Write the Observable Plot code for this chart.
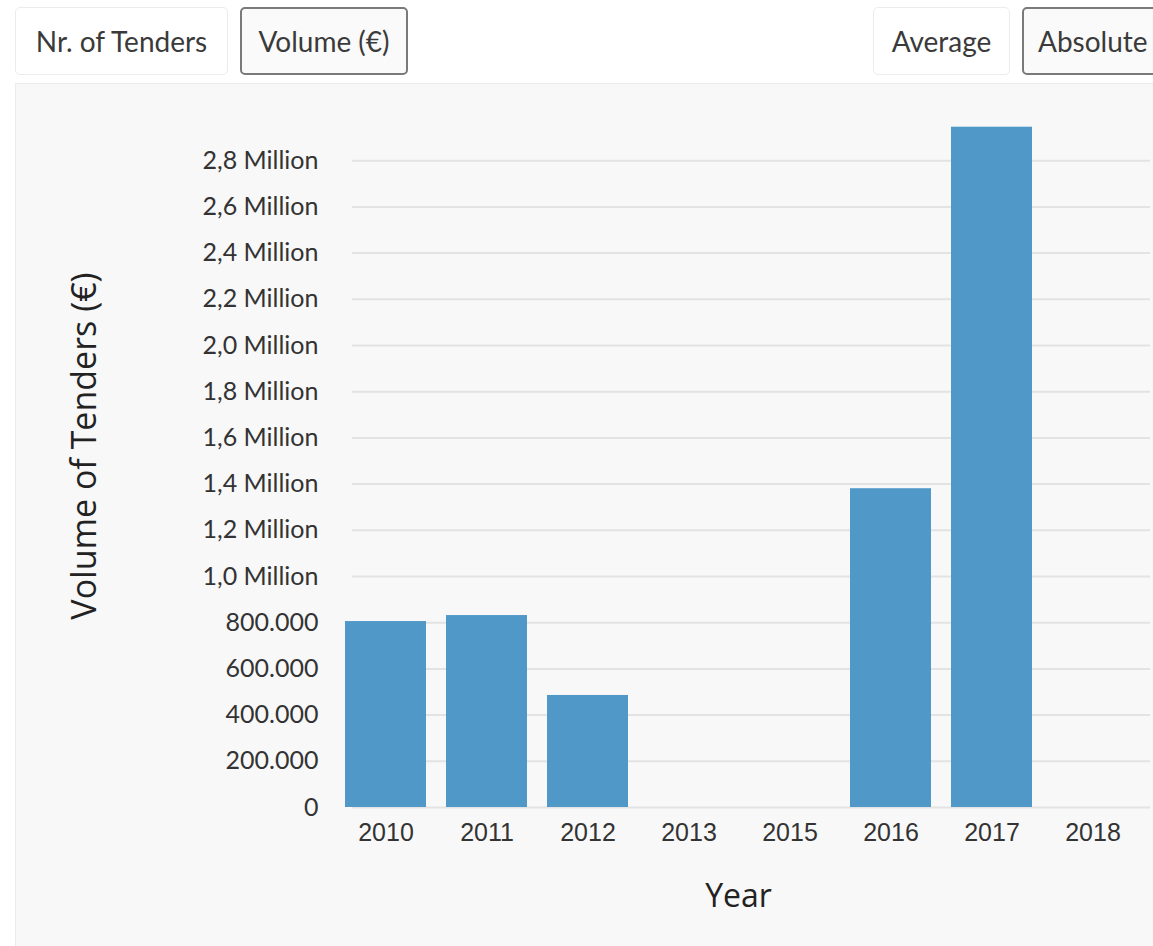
<!DOCTYPE html>
<html><head><meta charset="utf-8">
<script src="https://cdn.jsdelivr.net/npm/d3@7"></script>
<script src="https://cdn.jsdelivr.net/npm/@observablehq/plot@0.6"></script>
<style>
html,body{margin:0;padding:0;background:#fff;width:1153px;height:946px;overflow:hidden;font-family:Lato,sans-serif;}
.btn{position:absolute;top:7px;height:68px;box-sizing:border-box;border:1px solid #ececec;border-radius:5px;background:#fff;color:#3a3a3a;font-size:28px;line-height:66px;text-align:center;white-space:nowrap;overflow:hidden;}
.btn.sel{border:2px solid #7a7a7a;background:#fafafa;line-height:64px;}
#panel{position:absolute;left:15px;top:83px;width:1160px;height:880px;background:#f8f8f8;border:1px solid #ebebeb;}
#chart{position:absolute;left:0;top:85px;}
</style></head><body>
<div id="panel"></div>
<div id="buttons"></div>
<div id="chart"></div>
<script>
// ---- data ----
const years = ["2010", "2011", "2012", "2013", "2015", "2016", "2017", "2018"];
const volumes = [805000, 831000, 485000, 0, 0, 1380000, 2945000, 0];
const yTicks = [0, 200000, 400000, 600000, 800000, 1000000, 1200000, 1400000, 1600000, 1800000, 2000000, 2200000, 2400000, 2600000, 2800000];
const yTickLabels = ["0", "200.000", "400.000", "600.000", "800.000", "1,0 Million", "1,2 Million", "1,4 Million", "1,6 Million", "1,8 Million", "2,0 Million", "2,2 Million", "2,4 Million", "2,6 Million", "2,8 Million"];
const buttonLabels = ["Nr. of Tenders", "Volume (€)", "Average", "Absolute"];
const xTitle = "Year";
const yTitle = "Volume of Tenders (€)";

// ---- buttons ----
const btnLayout = [
  {left: 15, width: 213, sel: false},
  {left: 240, width: 168, sel: true},
  {left: 873, width: 137, sel: false},
  {left: 1022, width: 160, sel: true, align: "left"}
];
const bc = document.getElementById("buttons");
buttonLabels.forEach((t, i) => {
  const d = document.createElement("div");
  const L = btnLayout[i];
  d.className = "btn" + (L.sel ? " sel" : "");
  d.style.left = L.left + "px";
  d.style.width = L.width + "px";
  if (L.align === "left") { d.style.textAlign = "left"; d.style.paddingLeft = "14px"; }
  d.textContent = t;
  bc.appendChild(d);
});

// ---- chart ----
const data = years.map((y, i) => ({year: y, volume: volumes[i]}));
const chart = Plot.plot({
  width: 1153,
  height: 861,
  marginLeft: 352,
  marginRight: 3,
  marginTop: 29,
  marginBottom: 139,
  style: {background: "transparent", fontFamily: "Lato, sans-serif", color: "#333", overflow: "visible"},
  x: {type: "band", domain: years, range: [321.6, 1156.4], padding: 0.2},
  y: {domain: [0, 3000000]},
  marks: [
    Plot.gridY(yTicks, {stroke: "#e3e3e3", strokeWidth: 2, strokeOpacity: 1}),
    Plot.barY(data, {x: "year", y: "volume", fill: "#5098c8"}),
    Plot.axisY(yTicks, {
      tickSize: 0, tickPadding: 34, label: null,
      tickFormat: d => yTickLabels[yTicks.indexOf(d)],
      fontSize: 25, fontFamily: "Lato, sans-serif", fill: "#333"
    }),
    Plot.axisX({
      tickSize: 0, tickPadding: 16, label: null,
      fontSize: 25, fontFamily: "Liberation Sans, Arial, sans-serif", fill: "#333"
    }),
    Plot.text([xTitle], {
      text: d => d, frameAnchor: "bottom", dx: -13, dy: 99,
      fontSize: 32, fontFamily: "Open Sans, sans-serif", fill: "#222"
    }),
    Plot.text([yTitle], {
      text: d => d, frameAnchor: "left", textAnchor: "middle", rotate: -90, dx: -267, dy: -15,
      fontSize: 34, fontFamily: "Open Sans, sans-serif", fill: "#222"
    })
  ]
});
document.getElementById("chart").appendChild(chart);
</script>
</body></html>
